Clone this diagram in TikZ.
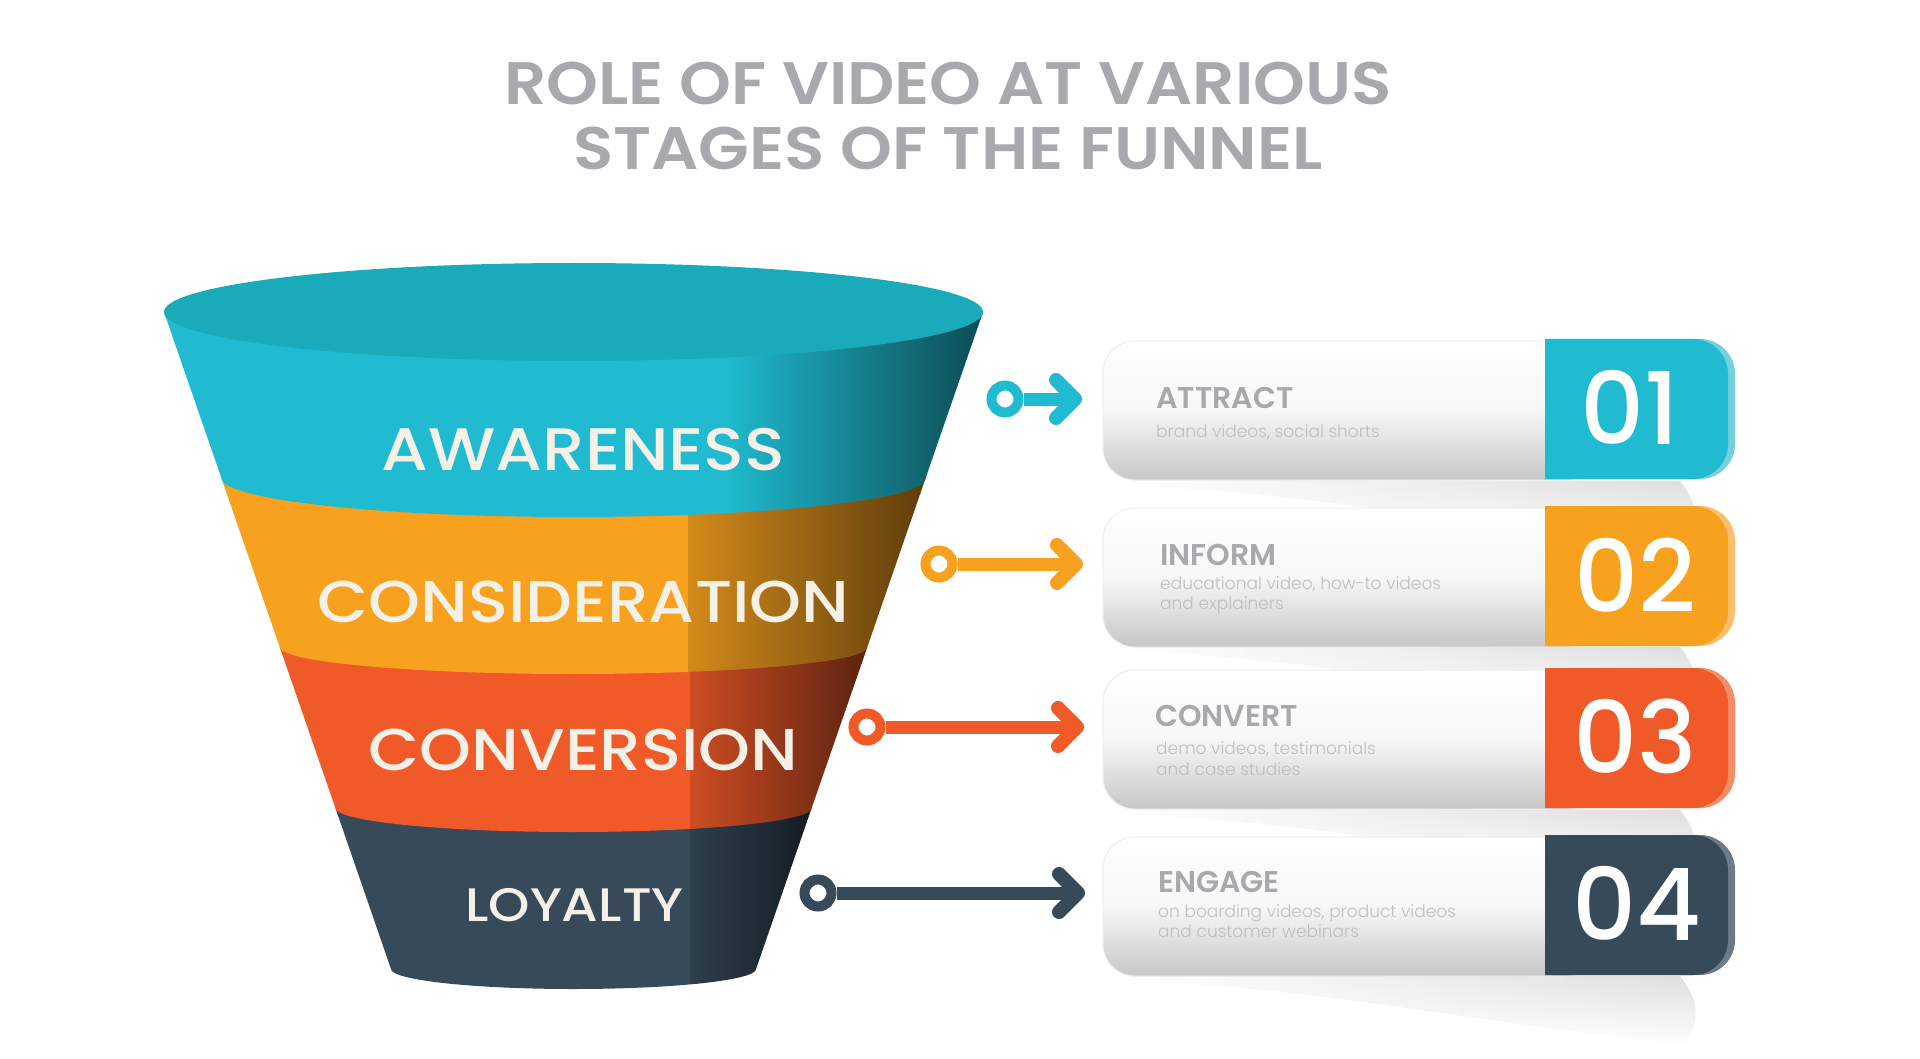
\documentclass[tikz,border=0pt]{standalone}
\usepackage{fontspec}
\setmainfont{Poppins}
\newfontfamily\popmed{Poppins Medium}
\newfontfamily\popmedW[FakeStretch=1.12]{Poppins Medium}
\newfontfamily\popsemiW[FakeStretch=1.10]{Poppins SemiBold}
\newfontfamily\popsemi{Poppins SemiBold}
\newfontfamily\poplight{Poppins Light}
\usetikzlibrary{fadings}
\definecolor{cteal}{HTML}{20BBD0}
\definecolor{ctealtop}{HTML}{19ABB9}
\definecolor{corange}{HTML}{F7A11F}
\definecolor{cred}{HTML}{F05A29}
\definecolor{cdark}{HTML}{364A5A}
\definecolor{ltteal}{HTML}{78CEDC}
\definecolor{ltorange}{HTML}{FBC06E}
\definecolor{ltred}{HTML}{F58E66}
\definecolor{ltdark}{HTML}{6C7B87}
\definecolor{titlegray}{HTML}{A7A9AC}
\definecolor{subgray}{HTML}{BEBFC1}
\definecolor{funtext}{HTML}{F6F1E7}
\tikzfading[name=fadeA, left color=transparent!100, right color=transparent!40]
\tikzfading[name=fadeB, left color=transparent!86, right color=transparent!38]
\tikzfading[name=fadeS, top color=transparent!0, bottom color=transparent!100]
\newcommand\mkshadow[1]{%
  \begin{scope}[yshift=-#1pt]
    \shade[left color=white, right color=black!13, path fading=fadeS]
      (1110,0) -- (1680,0) .. controls (1700,-25) and (1700,-45) .. (1685,-68)
      .. controls (1480,-48) and (1300,-8) .. (1110,-4) -- cycle;
  \end{scope}}
\newcommand\mkrow[3]{%
  \begin{scope}[yshift=-#1pt]
    \shade[top color=white, bottom color=white!78!black, middle color=white!97!black, rounded corners=32]
      (1103,-2) rectangle (1600,-141);
    \draw[black!7, line width=1, rounded corners=32] (1103,-2) rectangle (1600,-141);
    \fill[#3] (1552,0) -- (1700,0) arc[start angle=90, end angle=0, radius=35]
      -- (1735,-105) arc[start angle=0, end angle=-90, radius=35] -- (1552,-140) -- cycle;
    \fill[#2] (1545,0) -- (1693,0) arc[start angle=90, end angle=0, radius=35]
      -- (1728,-105) arc[start angle=0, end angle=-90, radius=35] -- (1545,-140) -- cycle;
  \end{scope}}
\tikzset{
  ring/.style={circle, minimum size=27pt, inner sep=0pt, line width=10pt, fill=white, draw=#1},
  shaft/.style={line width=13pt, draw=#1},
  chev/.style={line width=14pt, line cap=round, line join=round, draw=#1},
  ttl/.style={anchor=base, inner sep=0pt, text=titlegray, font=\popsemiW\fontsize{60pt}{60pt}\selectfont},
  funlbl/.style={anchor=base, inner sep=0pt, text=funtext, font=\popmedW\fontsize{#1pt}{#1pt}\selectfont},
  boxhead/.style={anchor=base west, inner sep=0pt, text=titlegray, font=\popsemi\fontsize{30pt}{30pt}\selectfont},
  boxsub/.style={anchor=base west, inner sep=0pt, text=subgray, font=\poplight\fontsize{17pt}{17pt}\selectfont},
  numlbl/.style={anchor=base, inner sep=0pt, text=white, font=\popmed\fontsize{100pt}{100pt}\selectfont}
}
\begin{document}
\begin{tikzpicture}[x=1pt, y=1pt]
\useasboundingbox (0,0) rectangle (1920,-1059);
\fill[white] (0,0) rectangle (1920,-1059);

% title
\node[ttl] (title1) at (948,-105) {ROLE OF VIDEO AT VARIOUS};
\node[ttl] (title2) at (948,-170) {STAGES OF THE FUNNEL};

% funnel: loyalty
\begin{scope}
  \clip (335.4,-808) -- (391,-969) arc[start angle=180, end angle=360, x radius=182.5, y radius=20] -- (811.6,-808) -- cycle;
  \fill[cdark] (300,-780) rectangle (850,-1000);
  \fill[black, path fading=fadeB] (690,-780) rectangle (812,-1000);
\end{scope}
% conversion
\begin{scope}
  \clip (279.7,-647) -- (335.4,-808) arc[start angle=180, end angle=360, x radius=238.1, y radius=24] -- (867.3,-647) -- cycle;
  \fill[cred] (250,-620) rectangle (900,-840);
  \fill[black, path fading=fadeB] (690,-620) rectangle (868,-840);
\end{scope}
% consideration
\begin{scope}
  \clip (221.4,-478) -- (279.7,-647) arc[start angle=180, end angle=360, x radius=293.8, y radius=27] -- (925.6,-478) -- cycle;
  \fill[corange] (200,-450) rectangle (950,-680);
  \fill[black, path fading=fadeB] (688,-450) rectangle (926,-680);
\end{scope}
% awareness
\begin{scope}
  \clip (164,-312) -- (221.4,-478) arc[start angle=180, end angle=360, x radius=352.1, y radius=39] -- (983,-312) -- cycle;
  \fill[cteal] (150,-300) rectangle (1000,-530);
  \fill[black, path fading=fadeA] (725,-300) rectangle (984,-530);
\end{scope}
\fill[ctealtop] (573.5,-312) ellipse[x radius=409.5, y radius=49];

\node[funlbl=60] (aw) at (583.5,-470) {AWARENESS};
\node[funlbl=59] (co) at (583.5,-622) {CONSIDERATION};
\node[funlbl=59] (cv) at (583.5,-770) {CONVERSION};
\node[funlbl=47] (lo) at (574.5,-921) {LOYALTY};

% shadows
\mkshadow{481}
\mkshadow{647}
\mkshadow{810}
\mkshadow{976}

% rows
\mkrow{339}{cteal}{ltteal}
\mkrow{506}{corange}{ltorange}
\mkrow{668}{cred}{ltred}
\mkrow{835}{cdark}{ltdark}

\node[numlbl] (n1) at (1630,-444) {01};
\node[numlbl] (n2) at (1635,-612) {02};
\node[numlbl] (n3) at (1635,-773) {03};
\node[numlbl] (n4) at (1637,-940) {04};

\node[boxhead] (h1) at (1156,-408) {ATTRACT};
\node[boxsub] (s1) at (1156,-437) {brand videos, social shorts};
\node[boxhead] (h2) at (1160,-565) {INFORM};
\node[boxsub] (s2a) at (1160,-589) {educational video, how-to videos};
\node[boxsub] (s2b) at (1160,-609) {and explainers};
\node[boxhead] (h3) at (1155,-726) {CONVERT};
\node[boxsub] (s3a) at (1156,-754) {demo videos, testimonials};
\node[boxsub] (s3b) at (1156,-775) {and case studies};
\node[boxhead] (h4) at (1158,-892) {ENGAGE};
\node[boxsub] (s4a) at (1158,-917) {on boarding videos, product videos};
\node[boxsub] (s4b) at (1158,-937) {and customer webinars};

% arrows
\node[ring=cteal] (r1) at (1005,-399) {};
\coordinate (t1) at (1075,-399);
\draw[shaft=cteal] (r1) -- (t1);
\draw[chev=cteal] ([shift={(-19,19)}]t1) -- (t1) -- ([shift={(-19,-19)}]t1);

\node[ring=corange] (r2) at (939,-564) {};
\coordinate (t2) at (1076,-564);
\draw[shaft=corange] (r2) -- (t2);
\draw[chev=corange] ([shift={(-19,19)}]t2) -- (t2) -- ([shift={(-19,-19)}]t2);

\node[ring=cred] (r3) at (867,-727) {};
\coordinate (t3) at (1077,-727);
\draw[shaft=cred] (r3) -- (t3);
\draw[chev=cred] ([shift={(-19,19)}]t3) -- (t3) -- ([shift={(-19,-19)}]t3);

\node[ring=cdark] (r4) at (818,-893) {};
\coordinate (t4) at (1078,-893);
\draw[shaft=cdark] (r4) -- (t4);
\draw[chev=cdark] ([shift={(-19,19)}]t4) -- (t4) -- ([shift={(-19,-19)}]t4);
\end{tikzpicture}
\end{document}
